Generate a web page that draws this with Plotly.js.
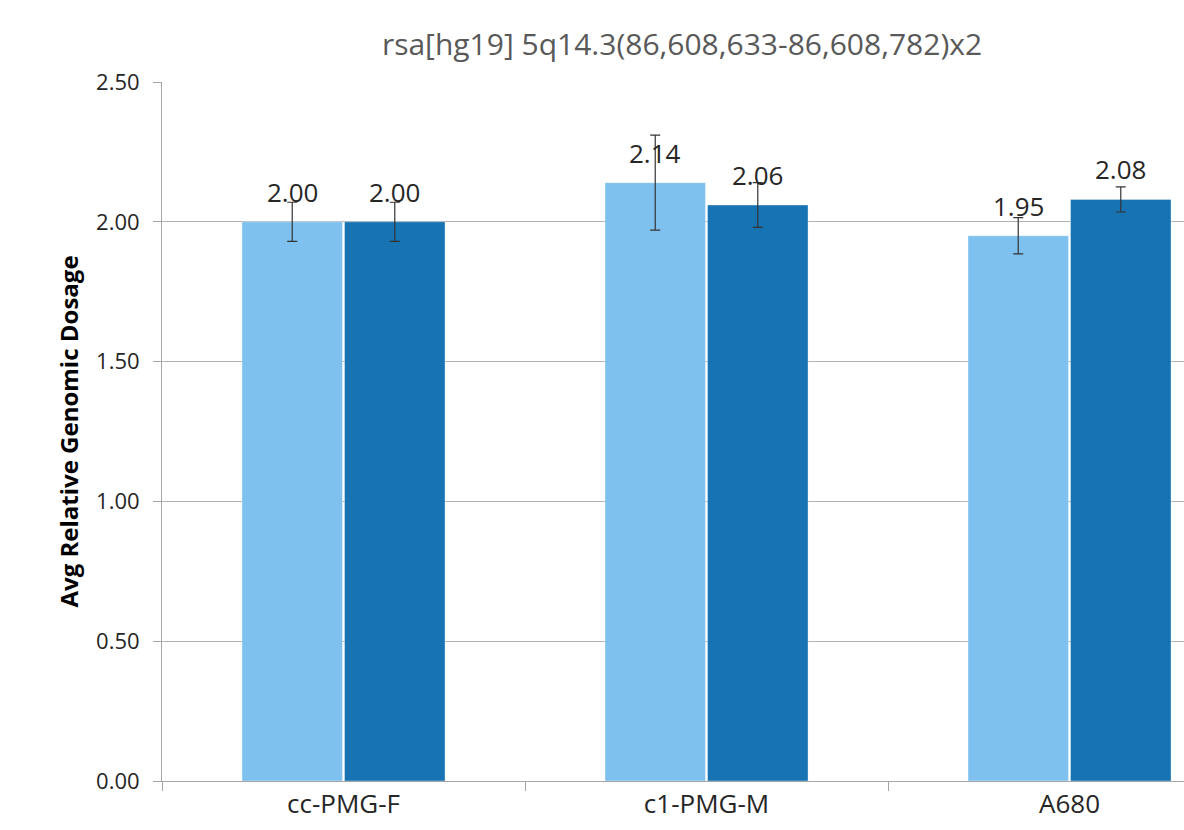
<!DOCTYPE html>
<html>
<head>
<meta charset="utf-8">
<script src="https://cdn.plot.ly/plotly-3.0.1.min.js"></script>
<style>html,body{margin:0;padding:0;background:#fff;overflow:hidden}</style>
</head>
<body>
<div id="chart" style="width:1184px;height:830px"></div>
<script>
const categories = ["cc-PMG-F", "c1-PMG-M", "A680"];
const series1 = [2.00, 2.14, 1.95];
const series1Err = [0.07, 0.17, 0.065];
const series2 = [2.00, 2.06, 2.08];
const series2Err = [0.07, 0.08, 0.045];
const yTicks = [0, 0.5, 1.0, 1.5, 2.0, 2.5];
const yTickLabels = ["0.00", "0.50", "1.00", "1.50", "2.00", "2.50"];

const FONT = "'Open Sans', sans-serif";
const BARGAP = 0.435;
const PLOT_LEFT = 162, PLOT_RIGHT = 1184;
const X_RANGE = [-0.5, 2.3154];
const pxPerCat = (PLOT_RIGHT - PLOT_LEFT) / (X_RANGE[1] - X_RANGE[0]);
const barOffsetPx = (1 - BARGAP) / 4 * pxPerCat;

function barTrace(vals, errs, color) {
  return {
    type: "bar",
    x: categories,
    y: vals,
    marker: {color: color, line: {color: "rgba(255,255,255,0.35)", width: 1}},
    error_y: {type: "data", array: errs, visible: true, color: "#333333", thickness: 1.2, width: 5},
    hoverinfo: "skip"
  };
}

const data = [
  barTrace(series1, series1Err, "#7fc1ee"),
  barTrace(series2, series2Err, "#1873b3")
];

const annotations = [];
[[series1, -1], [series2, 1]].forEach(([vals, side]) => {
  vals.forEach((v, i) => {
    annotations.push({
      x: categories[i], y: v, xref: "x", yref: "y",
      text: v.toFixed(2), showarrow: false,
      xanchor: "center", yanchor: "bottom",
      xshift: side * barOffsetPx, yshift: 10,
      font: {family: FONT, size: 26, color: "#262626"}
    });
  });
});

const layout = {
  width: 1184,
  height: 830,
  margin: {l: PLOT_LEFT, r: 1184 - PLOT_RIGHT, t: 82, b: 49},
  paper_bgcolor: "#ffffff",
  plot_bgcolor: "#ffffff",
  showlegend: false,
  barmode: "group",
  bargap: BARGAP,
  bargroupgap: 0.02,
  annotations: annotations,
  title: {
    text: "rsa[hg19] 5q14.3(86,608,633-86,608,782)x2",
    font: {family: FONT, size: 30, color: "#595959"},
    x: 682 / 1184, xref: "container", xanchor: "center",
    y: 1 - 44 / 830, yref: "container", yanchor: "middle"
  },
  xaxis: {
    type: "category",
    range: X_RANGE,
    showline: true,
    linecolor: "#a6a6a6",
    linewidth: 1,
    ticks: "outside",
    tickson: "boundaries",
    ticklen: 9,
    tickcolor: "#a6a6a6",
    tickfont: {family: FONT, size: 26, color: "#262626"},
    showgrid: false,
    zeroline: false
  },
  yaxis: {
    range: [0, 2.5],
    tickvals: yTicks,
    ticktext: yTickLabels,
    ticks: "outside",
    ticklen: 8,
    tickcolor: "#a6a6a6",
    showline: true,
    linecolor: "#a6a6a6",
    linewidth: 1,
    showgrid: true,
    gridcolor: "#b3b3b3",
    gridwidth: 1,
    zeroline: false,
    tickfont: {family: FONT, size: 22, color: "#262626"},
    ticklabelstandoff: 9,
    title: {
      text: "<b>Avg Relative Genomic Dosage</b>",
      font: {family: FONT, size: 24, color: "#000000"},
      standoff: 10
    }
  }
};

Plotly.newPlot("chart", data, layout, {displayModeBar: false, staticPlot: true});
</script>
</body>
</html>
